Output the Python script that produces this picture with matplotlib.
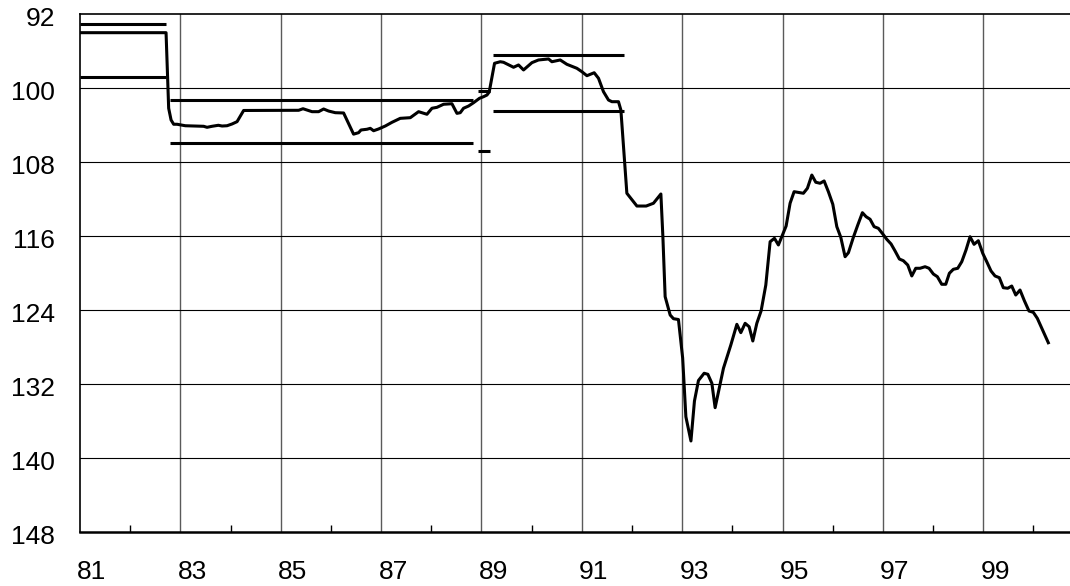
import matplotlib
matplotlib.use("Agg")
import matplotlib.pyplot as plt
import matplotlib.transforms as mtransforms
import numpy as np

plt.rcParams["font.family"] = ["Liberation Sans", "DejaVu Sans"]

# main series: (year, value), y axis is inverted
years = [
    81.0, 82.715, 82.767, 82.815, 82.867, 82.934, 83.10, 83.464, 83.532, 83.631,
    83.757, 83.831, 83.930, 84.030, 84.130, 84.261, 85.357, 85.444, 85.624, 85.755,
    85.855, 85.954, 86.088, 86.253, 86.452, 86.552, 86.60, 86.719, 86.785, 86.851,
    86.95, 87.084, 87.217, 87.382, 87.582, 87.747, 87.914, 88.014, 88.113, 88.245,
    88.412, 88.512, 88.578, 88.643, 88.743, 88.843, 88.962, 89.042, 89.110, 89.155,
    89.261, 89.375, 89.44, 89.64, 89.739, 89.839, 90.006, 90.137, 90.337, 90.404,
    90.57, 90.703, 90.902, 91.002, 91.102, 91.247, 91.333, 91.432, 91.532, 91.60,
    91.731, 91.779, 91.898, 92.098, 92.283, 92.428, 92.576, 92.616, 92.661, 92.761,
    92.827, 92.926, 93.01, 93.074, 93.175, 93.245, 93.325, 93.438, 93.512, 93.592,
    93.657, 93.823, 93.97, 94.09, 94.169, 94.255, 94.335, 94.408, 94.488, 94.574,
    94.667, 94.753, 94.839, 94.918, 94.998, 95.072, 95.151, 95.231, 95.416, 95.496,
    95.584, 95.663, 95.749, 95.829, 95.914, 96.002, 96.082, 96.161, 96.247, 96.313,
    96.412, 96.50, 96.592, 96.665, 96.745, 96.825, 96.91, 96.998, 97.078, 97.163,
    97.243, 97.329, 97.408, 97.496, 97.576, 97.655, 97.741, 97.841, 97.92, 98.006,
    98.086, 98.173, 98.253, 98.325, 98.404, 98.492, 98.572, 98.657, 98.737, 98.817,
    98.902, 98.99, 99.07, 99.155, 99.235, 99.321, 99.40, 99.488, 99.568, 99.648,
    99.733, 99.819, 99.912, 99.998, 100.078, 100.297,
]
values = [
    94.02, 94.02, 102.19, 103.46, 103.92, 103.92, 104.08, 104.14, 104.25, 104.14,
    104.03, 104.11, 104.08, 103.89, 103.64, 102.43, 102.41, 102.24, 102.56, 102.56,
    102.27, 102.49, 102.67, 102.70, 104.99, 104.83, 104.54, 104.46, 104.36, 104.62,
    104.43, 104.11, 103.71, 103.28, 103.21, 102.56, 102.84, 102.19, 102.09, 101.76,
    101.70, 102.74, 102.67, 102.19, 101.95, 101.59, 101.11, 100.94, 100.76, 100.43,
    97.33, 97.16, 97.22, 97.76, 97.51, 98.05, 97.26, 96.97, 96.86, 97.16,
    96.97, 97.44, 97.87, 98.24, 98.67, 98.35, 98.95, 100.40, 101.30, 101.48,
    101.48, 102.38, 111.38, 112.76, 112.76, 112.46, 111.46, 116.08, 122.56, 124.54,
    124.94, 125.03, 129.19, 135.54, 138.16, 133.84, 131.62, 130.84, 130.95, 131.92,
    134.56, 130.30, 127.78, 125.55, 126.45, 125.44, 125.81, 127.35, 125.44, 124.08,
    121.30, 116.62, 116.25, 116.97, 115.89, 114.92, 112.46, 111.21, 111.38, 110.84,
    109.41, 110.19, 110.30, 110.05, 111.21, 112.57, 114.99, 116.14, 118.24, 117.81,
    116.14, 114.81, 113.48, 113.91, 114.19, 114.99, 115.17, 115.78, 116.36, 116.86,
    117.62, 118.49, 118.67, 119.14, 120.32, 119.49, 119.49, 119.32, 119.49, 120.11,
    120.40, 121.22, 121.22, 120.03, 119.60, 119.49, 118.78, 117.51, 116.08, 116.90,
    116.51, 117.87, 118.78, 119.78, 120.32, 120.51, 121.59, 121.65, 121.41, 122.38,
    121.84, 122.99, 124.11, 124.25, 124.90, 127.54,
]

# band segments: start year, end year, upper value, lower value
band_start = [81.0, 82.79, 88.93, 89.24]
band_end = [82.72, 88.84, 89.17, 91.845]
band_upper = [93.08, 101.32, 100.32, 96.43]
band_lower = [98.81, 105.98, 106.81, 102.45]

x_major = [81, 83, 85, 87, 89, 91, 93, 95, 97, 99]
x_minor = [82, 84, 86, 88, 90, 92, 94, 96, 98, 100]
y_major = [92, 100, 108, 116, 124, 132, 140, 148]

fig = plt.figure(figsize=(10.7, 5.86), dpi=100)
ax = fig.add_axes([80 / 1070, 1 - 532 / 586, 1 - 80 / 1070, 518 / 586])

ax.set_xlim(81, 81 + (1070 - 79.6) / 50.2)
ax.set_ylim(148, 92)

for xg in x_major[1:]:
    ax.axvline(xg, color="#5a5a5a", lw=1.0, zorder=1)
for yg in y_major[1:-1]:
    ax.axhline(yg, color="black", lw=0.8, zorder=1)

for s, e, u, l in zip(band_start, band_end, band_upper, band_lower):
    ax.plot([s, e], [u, u], color="black", lw=2.2, solid_capstyle="butt", zorder=3)
    ax.plot([s, e], [l, l], color="black", lw=2.2, solid_capstyle="butt", zorder=3)

ax.plot(years, values, color="black", lw=2.2, zorder=4)

ax.set_xticks(x_major)
ax.set_xticklabels([str(v) for v in x_major])
ax.set_xticks(x_minor, minor=True)
ax.set_yticks(y_major)
ax.set_yticklabels([str(v) for v in y_major])

ax.tick_params(axis="x", which="major", length=0, pad=20, labelsize=19)
ax.tick_params(axis="x", which="minor", direction="in", length=5, width=1.0)
ax.tick_params(axis="y", which="major", length=0, pad=18, labelsize=19)

offset_x = mtransforms.ScaledTranslation(12 / 100, 0, fig.dpi_scale_trans)
for lab in ax.get_xticklabels():
    lab.set_transform(lab.get_transform() + offset_x)
offset_y = mtransforms.ScaledTranslation(0, -2 / 100, fig.dpi_scale_trans)
for lab in ax.get_yticklabels():
    lab.set_transform(lab.get_transform() + offset_y)

ax.spines["right"].set_visible(False)
ax.spines["top"].set_linewidth(1.2)
ax.spines["left"].set_linewidth(1.2)
ax.spines["bottom"].set_linewidth(1.8)

fig.savefig("out.png", dpi=100, facecolor="white")
